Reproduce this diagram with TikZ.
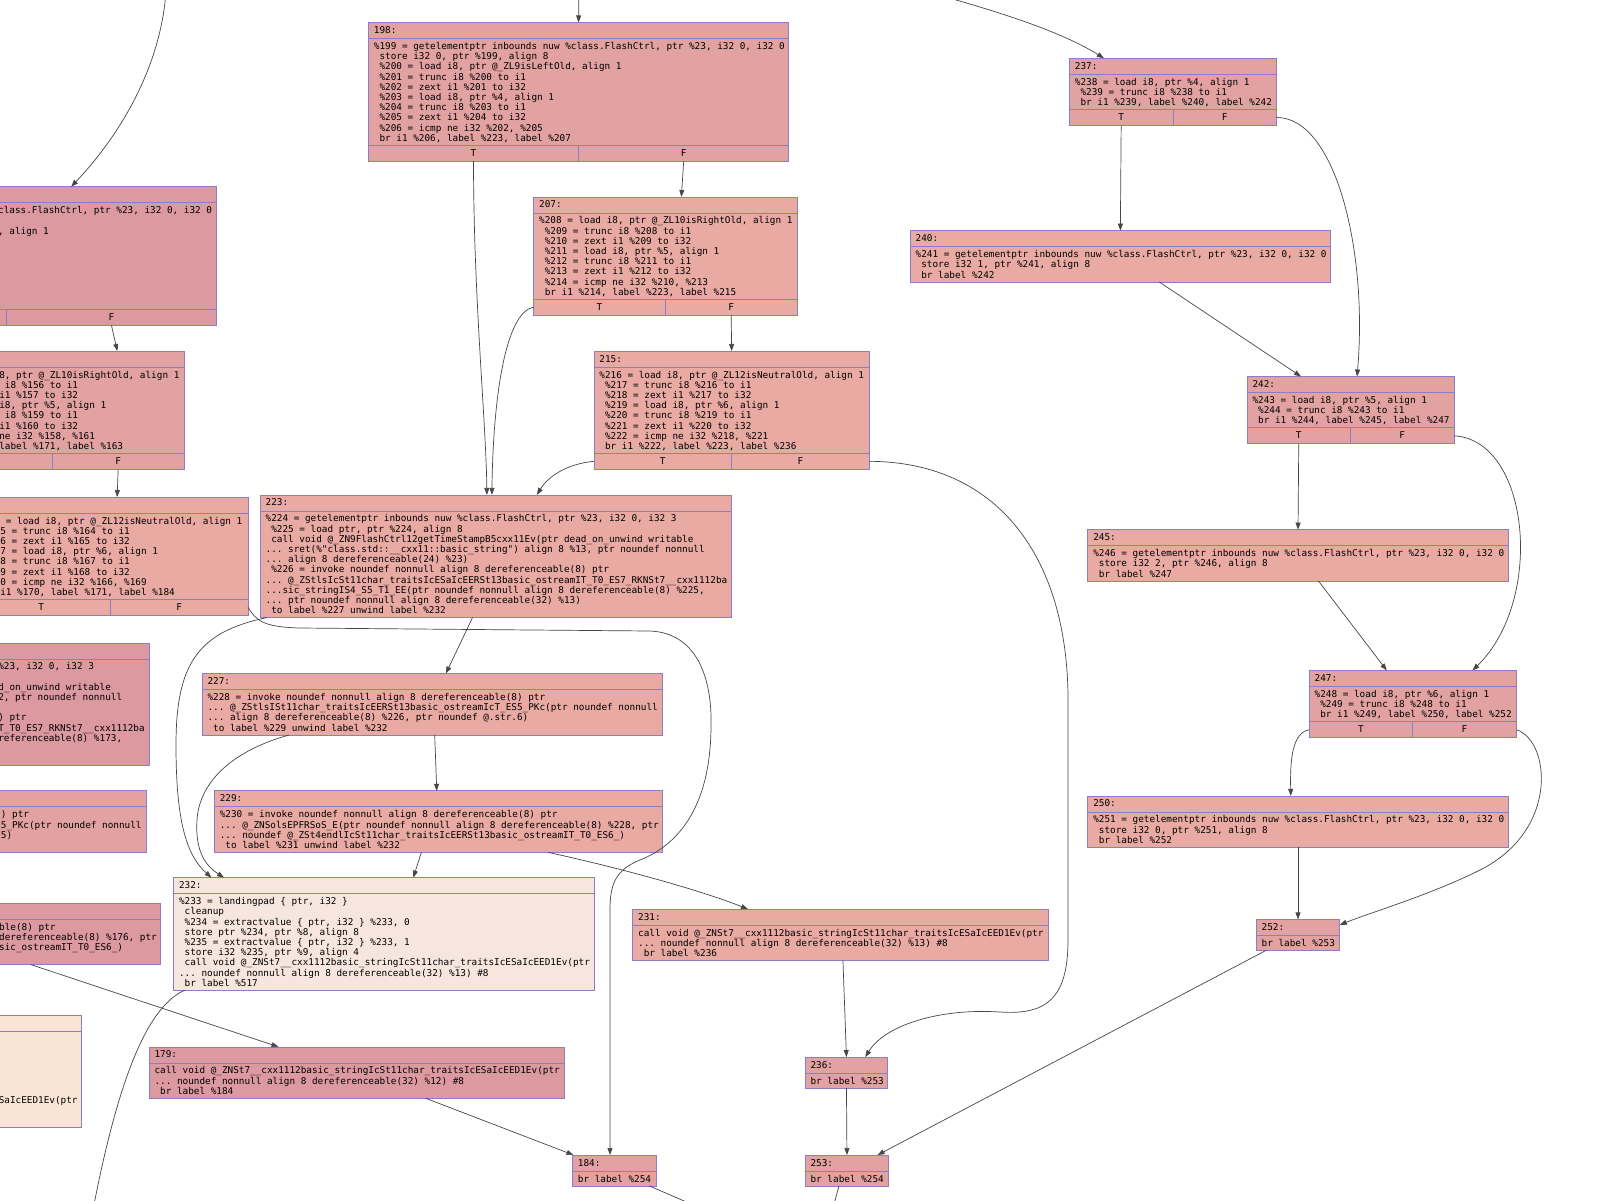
\documentclass[tikz,border=0pt]{standalone}
\usepackage{fontspec}
\setmonofont{DejaVu Sans Mono}
\usetikzlibrary{arrows.meta}
\definecolor{pinkA}{RGB}{220,154,160}
\definecolor{pinkB}{RGB}{226,162,162}
\definecolor{pinkC}{RGB}{232,170,163}
\definecolor{peachA}{RGB}{247,230,221}
\definecolor{peachB}{RGB}{249,228,214}
\definecolor{bordc}{RGB}{140,125,200}
\definecolor{edgec}{RGB}{70,70,70}
\newcommand\lsp{\hphantom{0}}
\tikzset{
  blk/.style={draw=bordc,line width=0.8pt,inner sep=0pt,outer sep=0pt,rectangle},
  sepl/.style={draw=bordc,line width=0.8pt},
  txt/.style={inner sep=0pt,outer sep=0pt,text=black,font=\ttfamily\frenchspacing\fontsize{9.35}{10.2}\selectfont},
  edge/.style={draw=edgec,line width=0.7pt,-{Triangle[length=7pt,width=5pt]}}
}
\newcommand\cfgbox[9]{%
  \pgfmathsetmacro\cfgh{20.7+10.2*#5+16*#6}%
  \node[blk,fill=#7,minimum width=#4pt,minimum height=\cfgh pt,anchor=north west] (#1) at (#2,#3) {};%
  \draw[sepl] ([yshift=-16pt]#1.north west) -- ([yshift=-16pt]#1.north east);%
  \ifnum#6=1\relax
    \draw[sepl] ([yshift=16pt]#1.south west) -- ([yshift=16pt]#1.south east);%
    \draw[sepl] ([yshift=16pt]#1.south) -- (#1.south);%
    \coordinate (#1-T) at ([xshift=-0.25pt*#4]#1.south);%
    \coordinate (#1-F) at ([xshift=0.25pt*#4]#1.south);%
    \coordinate (#1-L) at ([yshift=8pt]#1.south west);%
    \coordinate (#1-R) at ([yshift=8pt]#1.south east);%
    \node[txt,anchor=base] at ([yshift=5pt]#1-T) {T};%
    \node[txt,anchor=base] at ([yshift=5pt]#1-F) {F};%
  \fi
  \node[txt,anchor=north west] at ([xshift=5.5pt,yshift=-3pt]#1.north west) {\rule{0pt}{8pt}#8};%
  \node[txt,anchor=north west,align=left] at ([xshift=5.5pt,yshift=-19pt]#1.north west) {\rule{0pt}{8pt}#9};%
}
\begin{document}
\begin{tikzpicture}[x=1pt,y=-1pt]
\useasboundingbox (0,0) rectangle (1600,1200);
\fill[white] (0,0) rectangle (1600,1200);
\clip (0,0) rectangle (1600,1200);

% ---------------- blocks ----------------
\cfgbox{b198}{368.4}{22.4}{420.4}{10}{1}{pinkB}{198:}{%
\%199 = getelementptr inbounds nuw \%class.FlashCtrl, ptr \%23, i32 0, i32 0\\
\lsp store i32 0, ptr \%199, align 8\\
\lsp\%200 = load i8, ptr @\_ZL9isLeftOld, align 1\\
\lsp\%201 = trunc i8 \%200 to i1\\
\lsp\%202 = zext i1 \%201 to i32\\
\lsp\%203 = load i8, ptr \%4, align 1\\
\lsp\%204 = trunc i8 \%203 to i1\\
\lsp\%205 = zext i1 \%204 to i32\\
\lsp\%206 = icmp ne i32 \%202, \%205\\
\lsp br i1 \%206, label \%223, label \%207}

\cfgbox{bA}{-204.3}{186.7}{421}{10}{1}{pinkA}{146:}{%
\%147 = getelementptr inbounds nuw \%class.FlashCtrl, ptr \%23, i32 0, i32 0\\
\lsp store i32 0, ptr \%147, align 8\\
\lsp\%148 = load i8, ptr @\_ZL9isLeftOld, align 1\\
\lsp\%149 = trunc i8 \%148 to i1\\
\lsp\%150 = zext i1 \%149 to i32\\
\lsp\%151 = load i8, ptr \%4, align 1\\
\lsp\%152 = trunc i8 \%151 to i1\\
\lsp\%153 = zext i1 \%152 to i32\\
\lsp\%154 = icmp ne i32 \%150, \%153\\
\lsp br i1 \%154, label \%171, label \%155}

\cfgbox{b207}{533.7}{196.9}{263.3}{8}{1}{pinkC}{207:}{%
\%208 = load i8, ptr @\_ZL10isRightOld, align 1\\
\lsp\%209 = trunc i8 \%208 to i1\\
\lsp\%210 = zext i1 \%209 to i32\\
\lsp\%211 = load i8, ptr \%5, align 1\\
\lsp\%212 = trunc i8 \%211 to i1\\
\lsp\%213 = zext i1 \%212 to i32\\
\lsp\%214 = icmp ne i32 \%210, \%213\\
\lsp br i1 \%214, label \%223, label \%215}

\cfgbox{bB}{-79.4}{351}{263.4}{8}{1}{pinkB}{155:}{%
\%156 = load i8, ptr @\_ZL10isRightOld, align 1\\
\lsp\%157 = trunc i8 \%156 to i1\\
\lsp\%158 = zext i1 \%157 to i32\\
\lsp\%159 = load i8, ptr \%5, align 1\\
\lsp\%160 = trunc i8 \%159 to i1\\
\lsp\%161 = zext i1 \%160 to i32\\
\lsp\%162 = icmp ne i32 \%158, \%161\\
\lsp br i1 \%162, label \%171, label \%163}

\cfgbox{b215}{593.9}{351}{275.5}{8}{1}{pinkC}{215:}{%
\%216 = load i8, ptr @\_ZL12isNeutralOld, align 1\\
\lsp\%217 = trunc i8 \%216 to i1\\
\lsp\%218 = zext i1 \%217 to i32\\
\lsp\%219 = load i8, ptr \%6, align 1\\
\lsp\%220 = trunc i8 \%219 to i1\\
\lsp\%221 = zext i1 \%220 to i32\\
\lsp\%222 = icmp ne i32 \%218, \%221\\
\lsp br i1 \%222, label \%223, label \%236}

\cfgbox{bC}{-27.7}{497}{275.7}{8}{1}{pinkC}{163:}{%
\%164 = load i8, ptr @\_ZL12isNeutralOld, align 1\\
\lsp\%165 = trunc i8 \%164 to i1\\
\lsp\%166 = zext i1 \%165 to i32\\
\lsp\%167 = load i8, ptr \%6, align 1\\
\lsp\%168 = trunc i8 \%167 to i1\\
\lsp\%169 = zext i1 \%168 to i32\\
\lsp\%170 = icmp ne i32 \%166, \%169\\
\lsp br i1 \%170, label \%171, label \%184}

\cfgbox{b223}{260.2}{494.9}{471.4}{10}{0}{pinkC}{223:}{%
\%224 = getelementptr inbounds nuw \%class.FlashCtrl, ptr \%23, i32 0, i32 3\\
\lsp\%225 = load ptr, ptr \%224, align 8\\
\lsp call void @\_ZN9FlashCtrl12getTimeStampB5cxx11Ev(ptr dead\_on\_unwind writable\\
... sret(\%"class.std::\_\_cxx11::basic\_string") align 8 \%13, ptr noundef nonnull\\
... align 8 dereferenceable(24) \%23)\\
\lsp\%226 = invoke noundef nonnull align 8 dereferenceable(8) ptr\\
... @\_ZStlsIcSt11char\_traitsIcESaIcEERSt13basic\_ostreamIT\_T0\_ES7\_RKNSt7\_\_cxx1112ba\\
...sic\_stringIS4\_S5\_T1\_EE(ptr noundef nonnull align 8 dereferenceable(8) \%225,\\
... ptr noundef nonnull align 8 dereferenceable(32) \%13)\\
\lsp to label \%227 unwind label \%232}

\cfgbox{bD}{-322.4}{642.9}{471.4}{10}{0}{pinkA}{171:}{%
\%172 = getelementptr inbounds nuw \%class.FlashCtrl, ptr \%23, i32 0, i32 3\\
\lsp\%173 = load ptr, ptr \%172, align 8\\
\lsp call void @\_ZN9FlashCtrl12getTimeStampB5cxx11Ev(ptr dead\_on\_unwind writable\\
... sret(\%"class.std::\_\_cxx11::basic\_string") align 8 \%12, ptr noundef nonnull\\
... align 8 dereferenceable(24) \%23)\\
\lsp\%174 = invoke noundef nonnull align 8 dereferenceable(8) ptr\\
... @\_ZStlsIcSt11char\_traitsIcESaIcEERSt13basic\_ostreamIT\_T0\_ES7\_RKNSt7\_\_cxx1112ba\\
...sic\_stringIS4\_S5\_T1\_EE(ptr noundef nonnull align 8 dereferenceable(8) \%173,\\
... ptr noundef nonnull align 8 dereferenceable(32) \%12)\\
\lsp to label \%175 unwind label \%180}

\cfgbox{b227}{202}{673.5}{460.2}{4}{0}{pinkC}{227:}{%
\%228 = invoke noundef nonnull align 8 dereferenceable(8) ptr\\
... @\_ZStlsISt11char\_traitsIcEERSt13basic\_ostreamIcT\_ES5\_PKc(ptr noundef nonnull\\
... align 8 dereferenceable(8) \%226, ptr noundef @.str.6)\\
\lsp to label \%229 unwind label \%232}

\cfgbox{bE}{-314.2}{790.8}{460.2}{4}{0}{pinkB}{175:}{%
\%176 = invoke noundef nonnull align 8 dereferenceable(8) ptr\\
... @\_ZStlsISt11char\_traitsIcEERSt13basic\_ostreamIcT\_ES5\_PKc(ptr noundef nonnull\\
... align 8 dereferenceable(8) \%174, ptr noundef @.str.5)\\
\lsp to label \%177 unwind label \%180}

\cfgbox{b229}{214.3}{790.8}{447.9}{4}{0}{pinkC}{229:}{%
\%230 = invoke noundef nonnull align 8 dereferenceable(8) ptr\\
... @\_ZNSolsEPFRSoS\_E(ptr noundef nonnull align 8 dereferenceable(8) \%228, ptr\\
... noundef @\_ZSt4endlIcSt11char\_traitsIcEERSt13basic\_ostreamIT\_T0\_ES6\_)\\
\lsp to label \%231 unwind label \%232}

\cfgbox{bF}{-287.7}{903}{447.9}{4}{0}{pinkA}{177:}{%
\%178 = invoke noundef nonnull align 8 dereferenceable(8) ptr\\
... @\_ZNSolsEPFRSoS\_E(ptr noundef nonnull align 8 dereferenceable(8) \%176, ptr\\
... noundef @\_ZSt4endlIcSt11char\_traitsIcEERSt13basic\_ostreamIT\_T0\_ES6\_)\\
\lsp to label \%179 unwind label \%180}

\cfgbox{b232}{173.5}{877.6}{420.4}{9}{0}{peachA}{232:}{%
\%233 = landingpad \{ ptr, i32 \}\\
\lsp cleanup\\
\lsp\%234 = extractvalue \{ ptr, i32 \} \%233, 0\\
\lsp store ptr \%234, ptr \%8, align 8\\
\lsp\%235 = extractvalue \{ ptr, i32 \} \%233, 1\\
\lsp store i32 \%235, ptr \%9, align 4\\
\lsp call void @\_ZNSt7\_\_cxx1112basic\_stringIcSt11char\_traitsIcESaIcEED1Ev(ptr\\
... noundef nonnull align 8 dereferenceable(32) \%13) \#8\\
\lsp br label \%517}

\cfgbox{bG}{-338.8}{1015.3}{420.4}{9}{0}{peachB}{180:}{%
\%181 = landingpad \{ ptr, i32 \}\\
\lsp cleanup\\
\lsp\%182 = extractvalue \{ ptr, i32 \} \%181, 0\\
\lsp store ptr \%182, ptr \%8, align 8\\
\lsp\%183 = extractvalue \{ ptr, i32 \} \%181, 1\\
\lsp store i32 \%183, ptr \%9, align 4\\
\lsp call void @\_ZNSt7\_\_cxx1112basic\_stringIcSt11char\_traitsIcESaIcEED1Ev(ptr\\
... noundef nonnull align 8 dereferenceable(32) \%12) \#8\\
\lsp br label \%517}

\cfgbox{b231}{632.7}{909.2}{415.3}{3}{0}{pinkC}{231:}{%
call void @\_ZNSt7\_\_cxx1112basic\_stringIcSt11char\_traitsIcESaIcEED1Ev(ptr\\
... noundef nonnull align 8 dereferenceable(32) \%13) \#8\\
\lsp br label \%236}

\cfgbox{b179}{149}{1046.9}{415.3}{3}{0}{pinkA}{179:}{%
call void @\_ZNSt7\_\_cxx1112basic\_stringIcSt11char\_traitsIcESaIcEED1Ev(ptr\\
... noundef nonnull align 8 dereferenceable(32) \%12) \#8\\
\lsp br label \%184}

\cfgbox{b236}{805.1}{1057.1}{82.7}{1}{0}{pinkB}{236:}{br label \%253}
\cfgbox{b184}{572.4}{1155}{83.7}{1}{0}{pinkB}{184:}{br label \%254}
\cfgbox{b253}{805.1}{1155}{83.7}{1}{0}{pinkB}{253:}{br label \%254}

\cfgbox{b237}{1069.4}{58.2}{207.1}{3}{1}{pinkB}{237:}{%
\%238 = load i8, ptr \%4, align 1\\
\lsp\%239 = trunc i8 \%238 to i1\\
\lsp br i1 \%239, label \%240, label \%242}

\cfgbox{b240}{910.2}{230.6}{420.3}{3}{0}{pinkC}{240:}{%
\%241 = getelementptr inbounds nuw \%class.FlashCtrl, ptr \%23, i32 0, i32 0\\
\lsp store i32 1, ptr \%241, align 8\\
\lsp br label \%242}

\cfgbox{b242}{1247}{376.5}{207}{3}{1}{pinkB}{242:}{%
\%243 = load i8, ptr \%5, align 1\\
\lsp\%244 = trunc i8 \%243 to i1\\
\lsp br i1 \%244, label \%245, label \%247}

\cfgbox{b245}{1087.8}{529.6}{420.4}{3}{0}{pinkC}{245:}{%
\%246 = getelementptr inbounds nuw \%class.FlashCtrl, ptr \%23, i32 0, i32 0\\
\lsp store i32 2, ptr \%246, align 8\\
\lsp br label \%247}

\cfgbox{b247}{1309.2}{670.4}{207.1}{3}{1}{pinkB}{247:}{%
\%248 = load i8, ptr \%6, align 1\\
\lsp\%249 = trunc i8 \%248 to i1\\
\lsp br i1 \%249, label \%250, label \%252}

\cfgbox{b250}{1087.8}{795.9}{420.4}{3}{0}{pinkC}{250:}{%
\%251 = getelementptr inbounds nuw \%class.FlashCtrl, ptr \%23, i32 0, i32 0\\
\lsp store i32 0, ptr \%251, align 8\\
\lsp br label \%252}

\cfgbox{b252}{1256.2}{919.4}{83.6}{1}{0}{pinkB}{252:}{br label \%253}

% ---------------- free ends ----------------
\coordinate (in198) at (578.8,-10);
\coordinate (inA) at (166,-10);
\coordinate (in237) at (921,-10);
\coordinate (out253) at (831,1215);
\coordinate (out184) at (705,1210);
\coordinate (out232) at (92,1215);

% ---------------- edges ----------------
\draw[edge] (in198) -- (b198.north);
\draw[edge] (inA) .. controls (162,60) and (125,130) .. ([xshift=65pt]bA.north);
\draw[edge] (in237) .. controls (985,8) and (1055,28) .. ([xshift=-69pt]b237.north);

\draw[edge] (b198-T) .. controls (473.6,300) and (486,420) .. ([xshift=-9pt]b223.north);
\draw[edge] (b198-F) -- ([xshift=16pt]b207.north);
\draw[edge] (b207-L) .. controls (505,312) and (493,400) .. ([xshift=-4pt]b223.north);
\draw[edge] (b207-F) -- (b215.north);
\draw[edge] (b215-L) .. controls (565,464) and (547,478) .. ([xshift=41pt]b223.north);
\draw[edge] (b215-R) .. controls (1000,462) and (1068,560) .. (1068,700) -- (1068,940)
   .. controls (1068,1000) and (1045,1015) .. (1000,1012)
   .. controls (940,1008) and (885,1025) .. ([xshift=18.8pt]b236.north);

\draw[edge] ([xshift=-23.4pt]b223.south) -- ([xshift=13.8pt]b227.north);
\draw[edge] ([xshift=-229pt]b223.south) .. controls (197,632) and (176,665) .. (176,745)
   .. controls (176,820) and (186,855) .. ([xshift=38pt]b232.north west);
\draw[edge] ([xshift=-143pt]b227.south) .. controls (228,752) and (199,785) .. (197,820)
   .. controls (195,852) and (206,866) .. ([xshift=50.5pt]b232.north west);
\draw[edge] ([xshift=2.6pt]b227.south) -- ([xshift=-1.5pt]b229.north);
\draw[edge] ([xshift=-16.9pt]b229.south) -- ([xshift=29.6pt]b232.north);
\draw[edge] ([xshift=109.7pt]b229.south) .. controls (620,868) and (700,890) .. ([xshift=-92.3pt]b231.north);
\draw[edge] ([xshift=2.6pt]b231.south) -- (b236.north);
\draw[edge] (b236.south) -- (b253.north);
\draw[edge] ([xshift=-31.8pt]b252.south) -- ([xshift=30.6pt]b253.north);
\draw[edge] ([xshift=-8pt]b253.south) -- (out253);
\draw[edge] ([xshift=35pt]b184.south) -- (out184);
\draw[edge] ([xshift=68.8pt]b179.south) -- ([xshift=-40.75pt]b184.north);
\draw[edge] ([xshift=94.35pt]bF.south) -- ([xshift=-78.1pt]b179.north);
\draw[edge] ([xshift=-198.7pt]b232.south) .. controls (150,1005) and (120,1070) .. (out232);

\draw[edge] (bA-F) -- ([xshift=65pt]bB.north);
\draw[edge] (bB-F) -- ([xshift=7pt]bC.north);
\draw[edge] (bC-R) .. controls (256,620) and (262,627) .. (300,628) -- (650,631)
   .. controls (698,633) and (712,680) .. (711,725)
   .. controls (711,790) and (690,840) .. (640,860)
   .. controls (615,870) and (610,885) .. (610,910) -- ([xshift=-4.25pt]b184.north);

\draw[edge] (b237-T) -- (b240.north);
\draw[edge] (b237-R) .. controls (1335,117) and (1368,250) .. ([xshift=6.5pt]b242.north);
\draw[edge] ([xshift=38.85pt]b240.south) -- ([xshift=-49.5pt]b242.north);
\draw[edge] (b242-T) -- (b245.north);
\draw[edge] (b242-R) .. controls (1530,440) and (1545,600) .. ([xshift=59.75pt]b247.north);
\draw[edge] ([xshift=20.4pt]b245.south) -- ([xshift=-26pt]b247.north);
\draw[edge] (b247-L) .. controls (1292,733) and (1290,760) .. ([xshift=-7.2pt]b250.north);
\draw[edge] (b247-R) .. controls (1550,740) and (1560,830) .. (1480,870)
   .. controls (1430,895) and (1372,912) .. ([yshift=10pt]b252.east);
\draw[edge] (b250.south) -- (b252.north);
\end{tikzpicture}
\end{document}
